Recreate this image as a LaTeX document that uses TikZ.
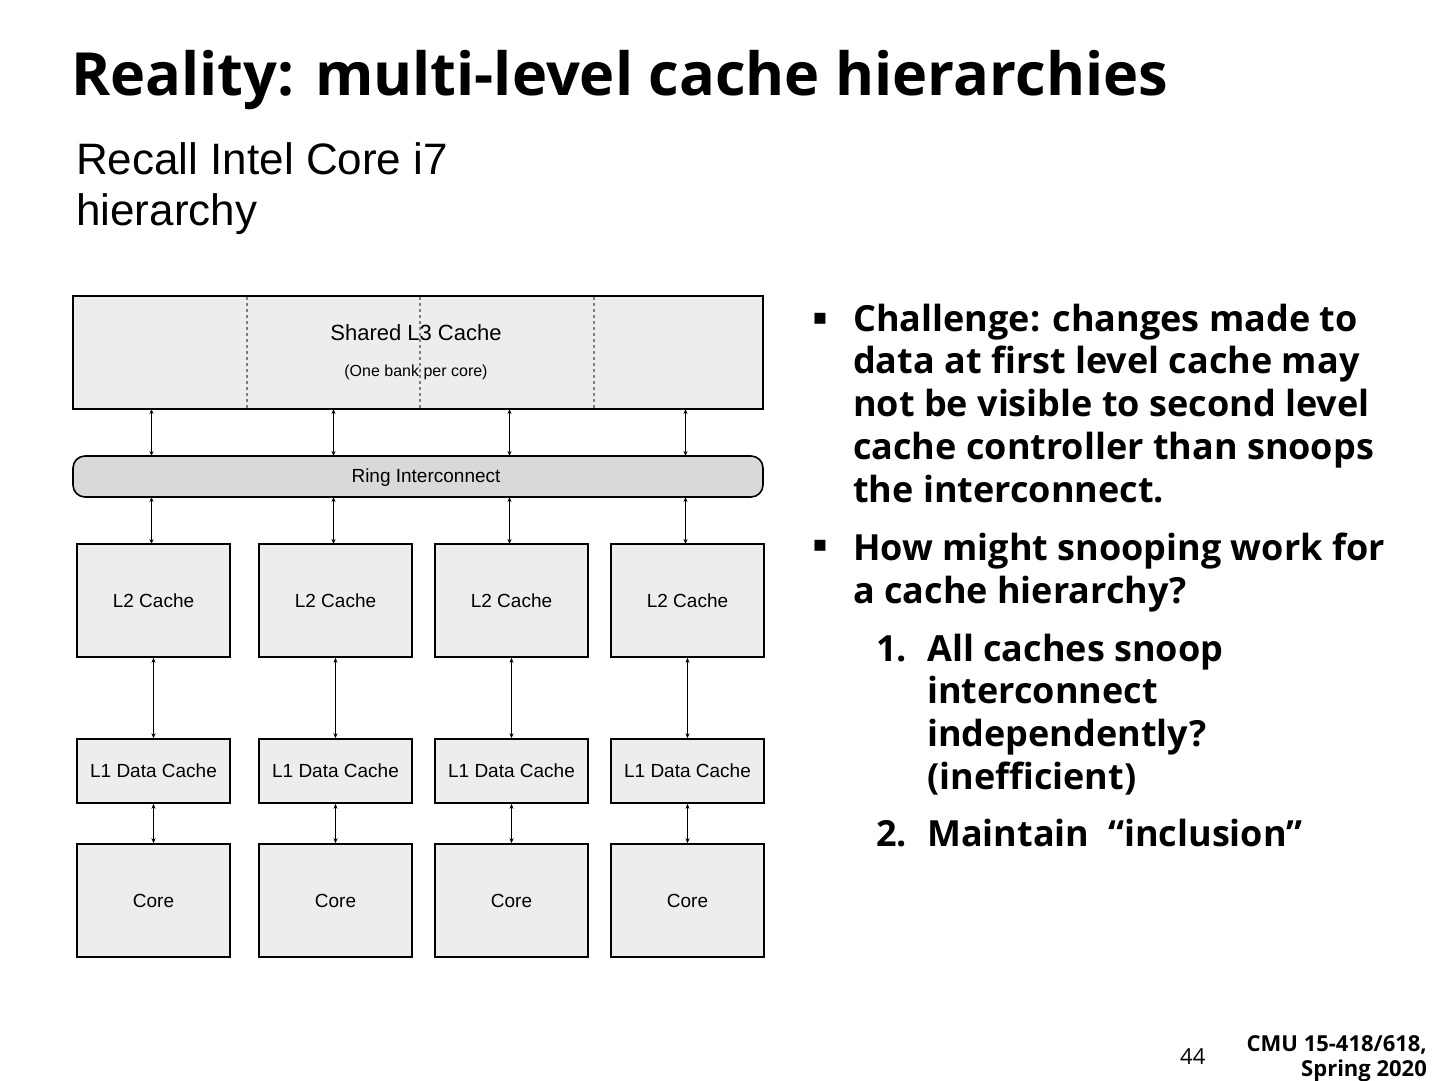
\documentclass[tikz,border=0pt]{standalone}
\usepackage{fontspec}
\usetikzlibrary{arrows.meta}
\setmainfont{Open Sans}
\newfontfamily\arialf{Liberation Sans}
\newfontfamily\dejavu{DejaVu Sans}
\begin{document}
\begin{tikzpicture}[x=1pt,y=-1pt,
  box/.style={draw=black,line width=1.6pt,fill=gray!14},
  lbl/.style={font=\arialf\fontsize{19}{21}\selectfont},
  arr/.style={{Stealth[length=5pt,width=4pt]}-{Stealth[length=5pt,width=4pt]},line width=0.8pt},
  bt/.style={anchor=mid west,font=\fontsize{36}{40}\selectfont\bfseries,inner sep=0pt}]
\useasboundingbox (0,0) rectangle (1440,1080);
\node[anchor=base west,inner sep=0pt,font=\fontsize{59.5}{66}\selectfont\bfseries] (title) at (71,95) {Reality: multi-level cache hierarchies};
\node[anchor=base west,inner sep=0pt,font=\arialf\fontsize{44}{48}\selectfont] (r1) at (76,174) {Recall Intel Core i7};
\node[anchor=base west,inner sep=0pt,font=\arialf\fontsize{44}{48}\selectfont] (r2) at (76,225) {hierarchy};
% L3
\node[box,minimum width=690pt,minimum height=113pt,inner sep=0pt] (l3) at (418,352.5) {};
\foreach \x in {247,420,594}{\draw[dashed,gray,line width=1.4pt] (\x,297) -- (\x,408);}
\node[lbl,font=\arialf\fontsize{22}{24}\selectfont] (l3t) at (416,333) {Shared L3 Cache};
\node[lbl,font=\arialf\fontsize{16}{18}\selectfont] (l3s) at (416,372) {(One bank per core)};
% ring
\node[draw=black,line width=1.6pt,fill=gray!30,rounded corners=12pt,minimum width=690pt,minimum height=41pt,inner sep=0pt] (ring) at (418,476.5) {};
\node[lbl] (ringt) at (426,478) {Ring Interconnect};
\foreach \i/\x in {1/153.5,2/335.5,3/511.5,4/687.5}{
  \node[box,minimum width=153pt,minimum height=113pt,inner sep=0pt,lbl] (l2\i) at (\x,600.5) {L2 Cache};
  \node[box,minimum width=153pt,minimum height=64pt,inner sep=0pt,lbl] (l1\i) at (\x,771) {L1 Data Cache};
  \node[box,minimum width=153pt,minimum height=113pt,inner sep=0pt,lbl] (c\i) at (\x,900.5) {Core};
  \coordinate (a\i) at (\x-2,409);
  \coordinate (b\i) at (\x-2,456);
  \coordinate (d\i) at (\x-2,497);
  \coordinate (e\i) at (\x-2,544);
  \draw[arr] (a\i) -- (b\i);
  \draw[arr] (d\i) -- (e\i);
  \draw[arr] (l2\i.south) -- (l1\i.north);
  \draw[arr] (l1\i.south) -- (c\i.north);
}
% bullets
\node[anchor=center,inner sep=0pt,font=\dejavu\fontsize{22}{24}\selectfont] (bu1) at (820,319) {▪};
\node[anchor=center,inner sep=0pt,font=\dejavu\fontsize{22}{24}\selectfont] (bu2) at (820,546) {▪};
\node[bt] (t1) at (853,329) {Challenge: changes made to};
\node[bt] (t2) at (853,371) {data at first level cache may};
\node[bt] (t3) at (853,414) {not be visible to second level};
\node[bt] (t4) at (853,457) {cache controller than snoops};
\node[bt] (t5) at (853,500) {the interconnect.};
\node[bt] (t6) at (853,558) {How might snooping work for};
\node[bt] (t7) at (853,601) {a cache hierarchy?};
\node[bt] (n1) at (876,659) {1.};
\node[bt] (t8) at (927,659) {All caches snoop};
\node[bt] (t9) at (927,701) {interconnect};
\node[bt] (t10) at (927,744) {independently?};
\node[bt] (t11) at (927,787) {(inefficient)};
\node[bt] (n2) at (876,844) {2.};
\node[bt] (t12) at (927,844) {Maintain \ “inclusion”};
% footer
\node[anchor=mid west,inner sep=0pt,font=\fontsize{22}{24}\selectfont] (pg) at (1180,1062) {44};
\node[anchor=mid east,inner sep=0pt,font=\fontsize{22}{24}\selectfont\bfseries] (f1) at (1427,1049) {CMU 15-418/618,};
\node[anchor=mid east,inner sep=0pt,font=\fontsize{22}{24}\selectfont\bfseries] (f2) at (1427,1074) {Spring 2020};
\end{tikzpicture}
\end{document}
